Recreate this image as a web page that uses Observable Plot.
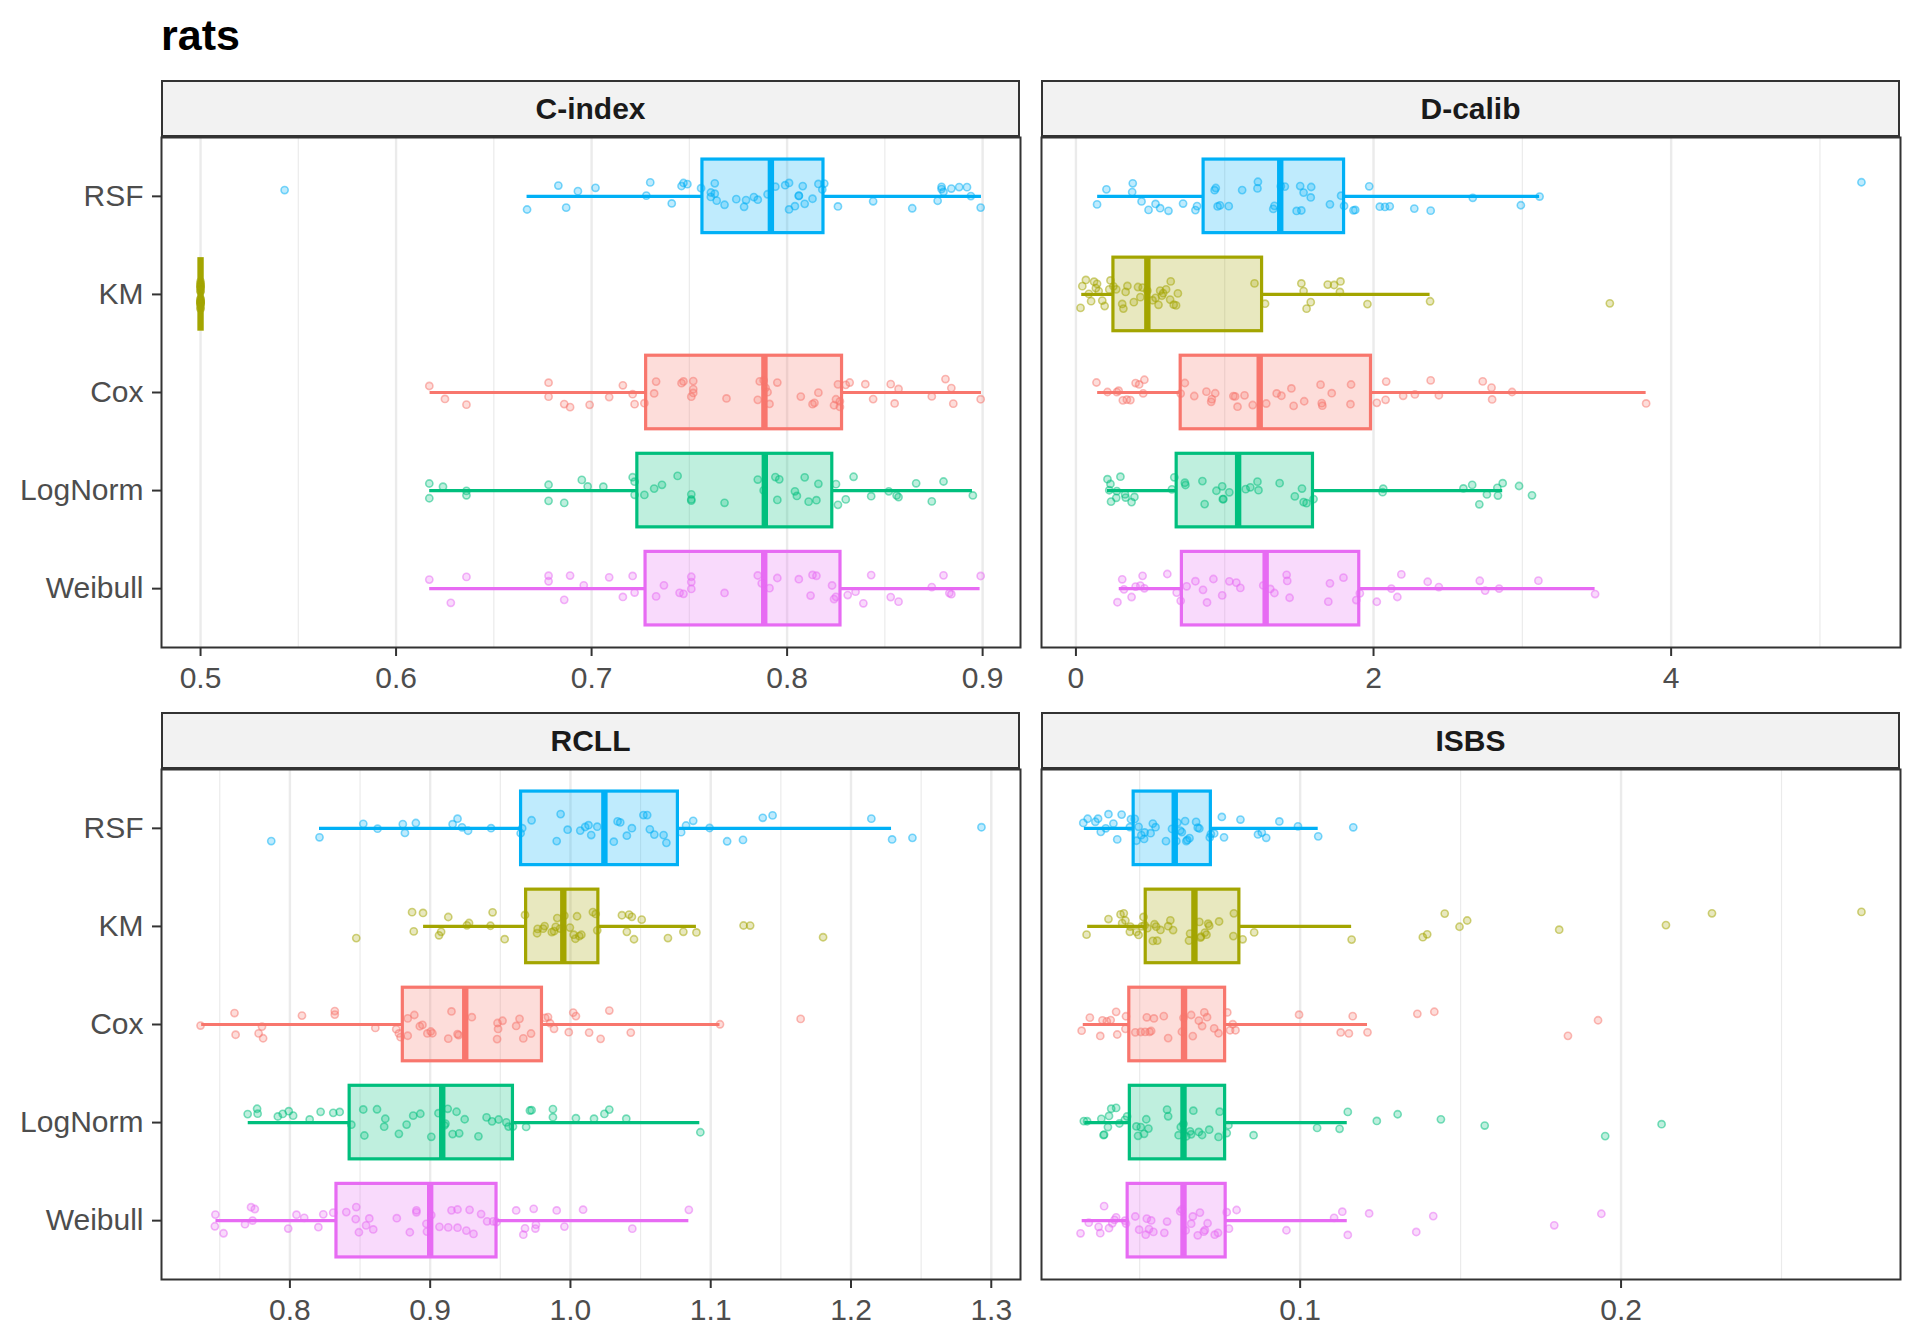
<!DOCTYPE html>
<html><head><meta charset="utf-8">
<script src="https://cdn.jsdelivr.net/npm/d3@7"></script>
<script src="https://cdn.jsdelivr.net/npm/@observablehq/plot@0.6"></script>
<style>
body{margin:0;background:#fff;}
#root{position:relative;width:1920px;height:1344px;font-family:"Liberation Sans",Arial,sans-serif;background:#fff;overflow:hidden;}
.title{position:absolute;left:161px;top:14px;font-size:43px;font-weight:bold;line-height:43px;color:#000;}
.strip{position:absolute;box-sizing:border-box;border:2px solid #333;background:#F2F2F2;font-weight:bold;font-size:30px;color:#1A1A1A;display:flex;align-items:center;justify-content:center;}
.panel{position:absolute;}
</style></head>
<body><div id="root"><div class="title">rats</div></div>
<script>
const models = ["RSF", "KM", "Cox", "LogNorm", "Weibull"];
const modelColors = ["#00B0F6", "#A3A500", "#F8766D", "#00BF7D", "#E76BF3"];
const metrics = ["C-index", "D-calib", "RCLL", "ISBS"];

// box stats per model: [lower whisker, Q1, median, Q3, upper whisker]
const cindexStats = [[0.667,0.7567,0.7917,0.8186,0.8994],[0.5,0.5,0.5,0.5,0.5],[0.6174,0.7279,0.7884,0.8281,0.8994],[0.6172,0.7234,0.7886,0.8231,0.8948],[0.6172,0.7276,0.7883,0.8273,0.8987]];
const dcalibStats = [[0.146,0.858,1.373,1.802,3.116],[0.039,0.252,0.480,1.251,2.380],[0.146,0.704,1.235,1.983,3.832],[0.212,0.677,1.090,1.593,2.868],[0.291,0.712,1.275,1.904,3.489]];
const rcllStats = [[0.8211,0.9648,1.0242,1.0766,1.2289],[0.8953,0.9684,0.9949,1.0199,1.0898],[0.7371,0.8805,0.9250,0.9797,1.1066],[0.7703,0.8426,0.9086,0.9590,1.0922],[0.7473,0.8332,0.9000,0.9473,1.0844]];
const isbsStats = [[0.03276,0.04812,0.06092,0.07218,0.10563],[0.03379,0.05188,0.06706,0.08106,0.11604],[0.03242,0.04676,0.06382,0.07662,0.12099],[0.03294,0.04693,0.06365,0.07662,0.11468],[0.03208,0.04625,0.06365,0.07679,0.11468]];

// C-index replicate values
const cindexRSF = [0.543,0.667,0.683,0.687,0.693,0.702,0.728,0.730,0.741,0.746,0.747,0.749,0.756,0.761,0.761,0.763,0.763,0.764,0.768,0.774,0.778,0.779,0.783,0.785,0.790,0.794,0.799,0.801,0.801,0.804,0.806,0.806,0.808,0.809,0.813,0.816,0.818,0.819,0.826,0.844,0.864,0.877,0.879,0.879,0.880,0.884,0.888,0.892,0.894,0.899];
const cindexKM = [0.5,0.5,0.5,0.5,0.5,0.5,0.5,0.5,0.5,0.5,0.5,0.5,0.5,0.5,0.5,0.5,0.5,0.5,0.5,0.5];
const cindexCox = [0.617,0.625,0.636,0.678,0.678,0.686,0.689,0.699,0.709,0.716,0.721,0.722,0.727,0.732,0.733,0.746,0.747,0.751,0.752,0.752,0.752,0.769,0.785,0.786,0.788,0.789,0.790,0.791,0.795,0.807,0.813,0.814,0.816,0.824,0.825,0.826,0.827,0.827,0.830,0.832,0.840,0.844,0.853,0.855,0.857,0.874,0.881,0.884,0.885,0.899];
const cindexLogNorm = [0.617,0.617,0.624,0.636,0.636,0.678,0.678,0.686,0.695,0.698,0.706,0.721,0.722,0.722,0.727,0.732,0.736,0.744,0.751,0.751,0.751,0.768,0.785,0.788,0.794,0.795,0.796,0.804,0.805,0.809,0.811,0.815,0.816,0.825,0.826,0.830,0.834,0.843,0.852,0.856,0.857,0.866,0.874,0.880,0.895];
const cindexWeibull = [0.617,0.628,0.636,0.678,0.678,0.686,0.689,0.696,0.709,0.716,0.721,0.722,0.733,0.737,0.745,0.747,0.751,0.751,0.751,0.768,0.785,0.787,0.791,0.795,0.806,0.812,0.813,0.815,0.823,0.824,0.825,0.831,0.835,0.839,0.843,0.853,0.857,0.874,0.880,0.883,0.884,0.899];

// D-calib replicate values
const dcalibRSF = [0.142,0.205,0.378,0.382,0.441,0.488,0.535,0.566,0.622,0.720,0.803,0.814,0.932,0.940,0.952,0.968,1.027,1.117,1.220,1.223,1.326,1.334,1.377,1.404,1.483,1.507,1.515,1.530,1.578,1.581,1.707,1.782,1.802,1.865,1.877,1.971,2.042,2.077,2.109,2.274,2.384,2.667,2.990,3.116,5.279];
const dcalibKM = [0.031,0.043,0.067,0.087,0.102,0.122,0.134,0.142,0.153,0.177,0.193,0.224,0.232,0.252,0.271,0.311,0.319,0.334,0.346,0.389,0.417,0.433,0.448,0.480,0.515,0.535,0.555,0.566,0.578,0.586,0.606,0.633,0.637,0.657,0.673,0.685,1.200,1.271,1.515,1.530,1.550,1.578,1.692,1.735,1.774,1.778,1.959,2.380,3.588];
const dcalibCox = [0.138,0.212,0.275,0.287,0.315,0.342,0.366,0.401,0.425,0.452,0.460,0.704,0.732,0.795,0.877,0.909,0.913,0.936,1.058,1.070,1.086,1.133,1.188,1.279,1.349,1.381,1.448,1.463,1.534,1.644,1.652,1.656,1.719,1.845,1.849,2.022,2.081,2.085,2.199,2.278,2.384,2.439,2.734,2.793,2.797,2.931,3.832];
const dcalibLogNorm = [0.212,0.224,0.232,0.236,0.271,0.275,0.299,0.330,0.334,0.374,0.393,0.645,0.661,0.732,0.736,0.850,0.865,0.944,0.983,0.987,0.991,1.031,1.141,1.172,1.220,1.227,1.369,1.471,1.519,1.530,1.550,1.597,2.061,2.065,2.604,2.663,2.711,2.762,2.832,2.836,2.868,2.978,3.065];
const dcalibWeibull = [0.279,0.311,0.323,0.374,0.401,0.433,0.448,0.460,0.614,0.677,0.704,0.744,0.803,0.854,0.881,0.924,0.983,1.031,1.078,1.105,1.259,1.306,1.334,1.416,1.420,1.436,1.696,1.707,1.798,1.884,1.908,2.022,2.120,2.160,2.187,2.364,2.439,2.714,2.750,2.844,3.108,3.489];

// RCLL replicate values
const rcllRSF = [0.7867,0.8211,0.8523,0.8625,0.8805,0.8820,0.8898,0.9160,0.9195,0.9227,0.9270,0.9434,0.9645,0.9656,0.9723,0.9902,0.9930,0.9980,1.0070,1.0105,1.0129,1.0148,1.0191,1.0309,1.0336,1.0355,1.0402,1.0438,1.0520,1.0547,1.0566,1.0598,1.0664,1.0684,1.0789,1.0824,1.0875,1.0992,1.1117,1.1230,1.1371,1.1441,1.2145,1.2293,1.2438,1.2930];
const rcllKM = [0.8473,0.8871,0.8883,0.8949,0.9063,0.9078,0.9129,0.9262,0.9277,0.9430,0.9445,0.9531,0.9676,0.9762,0.9766,0.9805,0.9816,0.9867,0.9883,0.9895,0.9906,0.9926,0.9957,0.9996,1.0023,1.0035,1.0047,1.0063,1.0078,1.0160,1.0180,1.0191,1.0367,1.0402,1.0418,1.0438,1.0453,1.0508,1.0695,1.0805,1.0898,1.1234,1.1281,1.1801];
const rcllCox = [0.7363,0.7605,0.7613,0.7777,0.7801,0.7809,0.8086,0.8320,0.8320,0.8609,0.8758,0.8777,0.8789,0.8840,0.8840,0.8887,0.8926,0.8945,0.8980,0.9004,0.9016,0.9129,0.9152,0.9195,0.9203,0.9297,0.9477,0.9480,0.9484,0.9516,0.9613,0.9637,0.9664,0.9719,0.9820,0.9840,0.9855,0.9883,0.9988,1.0020,1.0039,1.0133,1.0215,1.0277,1.0430,1.1066,1.1641];
const rcllLogNorm = [0.7699,0.7766,0.7770,0.7914,0.7949,0.7992,0.8023,0.8141,0.8219,0.8309,0.8355,0.8438,0.8523,0.8531,0.8621,0.8672,0.8680,0.8777,0.8832,0.8879,0.8930,0.9008,0.9059,0.9102,0.9109,0.9125,0.9160,0.9188,0.9207,0.9246,0.9344,0.9402,0.9441,0.9488,0.9543,0.9559,0.9590,0.9684,0.9711,0.9723,0.9875,0.9875,1.0039,1.0168,1.0242,1.0277,1.0398,1.0926];
const rcllWeibull = [0.7465,0.7469,0.7527,0.7680,0.7723,0.7734,0.7750,0.7988,0.8047,0.8102,0.8203,0.8238,0.8309,0.8402,0.8469,0.8473,0.8492,0.8543,0.8566,0.8594,0.8762,0.8855,0.8902,0.8902,0.8973,0.8977,0.9008,0.9066,0.9129,0.9152,0.9195,0.9195,0.9258,0.9281,0.9309,0.9363,0.9406,0.9449,0.9473,0.9613,0.9664,0.9676,0.9738,0.9750,0.9754,0.9902,0.9957,1.0090,1.0441,1.0844];

// ISBS replicate values
const isbsRSF = [0.03242,0.03379,0.03618,0.03703,0.03788,0.03942,0.04027,0.04181,0.04300,0.04437,0.04693,0.04727,0.04846,0.04898,0.04966,0.05051,0.05137,0.05154,0.05341,0.05410,0.05495,0.05819,0.06007,0.06143,0.06177,0.06263,0.06314,0.06416,0.06451,0.06485,0.06553,0.06758,0.06809,0.06860,0.07184,0.07218,0.07321,0.07560,0.07628,0.08140,0.08686,0.08805,0.08942,0.09352,0.09932,0.10563,0.11655];
const isbsKM = [0.03345,0.04027,0.04403,0.04454,0.04505,0.04556,0.04693,0.04710,0.04898,0.04966,0.05068,0.05119,0.05154,0.05239,0.05410,0.05461,0.05512,0.05546,0.05648,0.05887,0.05956,0.06041,0.06536,0.06570,0.06860,0.06894,0.06911,0.07031,0.07082,0.07133,0.07167,0.07474,0.07918,0.07935,0.08208,0.08567,0.11604,0.13823,0.13959,0.14505,0.14966,0.15205,0.18072,0.21399,0.22833,0.27491];
const isbsCox = [0.03191,0.03447,0.03771,0.03840,0.03976,0.04096,0.04266,0.04300,0.04556,0.04573,0.04863,0.05034,0.05171,0.05222,0.05307,0.05358,0.05444,0.05751,0.05887,0.06314,0.06365,0.06604,0.06655,0.06843,0.06945,0.07014,0.07099,0.07321,0.07457,0.07730,0.07816,0.07901,0.07986,0.09966,0.11263,0.11519,0.11638,0.12099,0.13652,0.14181,0.18345,0.19283];
const isbsLogNorm = [0.03259,0.03362,0.03805,0.03874,0.03891,0.04010,0.04044,0.04113,0.04266,0.04369,0.04539,0.04608,0.04898,0.04949,0.05034,0.05137,0.05205,0.05273,0.05853,0.05887,0.06212,0.06280,0.06365,0.06451,0.06570,0.06604,0.06672,0.06843,0.06945,0.07167,0.07457,0.07491,0.07713,0.07765,0.08549,0.10529,0.11229,0.11485,0.12389,0.13038,0.14386,0.15751,0.19505,0.21263];
const isbsWeibull = [0.03157,0.03413,0.03720,0.03771,0.03891,0.04044,0.04147,0.04215,0.04266,0.04539,0.04573,0.04863,0.04983,0.05188,0.05222,0.05290,0.05358,0.05427,0.05768,0.05853,0.06263,0.06314,0.06433,0.06604,0.06655,0.06809,0.06877,0.06997,0.07031,0.07116,0.07338,0.07440,0.07713,0.07782,0.08020,0.09573,0.11058,0.11314,0.11485,0.12150,0.13618,0.14147,0.17918,0.19386];

// tick values
const cindexMajor = [0.5, 0.6, 0.7, 0.8, 0.9], cindexMinor = [0.55, 0.65, 0.75, 0.85];
const dcalibMajor = [0, 2, 4], dcalibMinor = [1, 3, 5];
const rcllMajor = [0.8, 0.9, 1.0, 1.1, 1.2, 1.3], rcllMinor = [0.75, 0.85, 0.95, 1.05, 1.15, 1.25];
const isbsMajor = [0.1, 0.2], isbsMinor = [0.05, 0.15, 0.25];

// deterministic vertical jitter (ggplot geom_jitter look)
function mulberry32(a) { return function() { a |= 0; a = a + 0x6D2B79F5 | 0; let t = Math.imul(a ^ a >>> 15, 1 | a); t = t + Math.imul(t ^ t >>> 7, 61 | t) ^ t; return ((t ^ t >>> 14) >>> 0) / 4294967296; }; }

const FONT = '"Liberation Sans", Arial, sans-serif';
const root = document.getElementById("root");
const PW = 859, PH = 510;

function panel(cfg) {
  const pts = [];
  cfg.values.forEach((arr, i) => {
    const rnd = mulberry32(cfg.seed * 100 + i * 7 + 3);
    arr.forEach(v => pts.push({m: i, v, j: i + (rnd() * 2 - 1) * 0.15}));
  });
  const boxes = cfg.stats.map((s, i) => ({m: i, lo: s[0], q1: s[1], med: s[2], q3: s[3], hi: s[4], y1: i - 0.375, y2: i + 0.375}));
  const all = pts.map(d => d.v).concat(cfg.stats.flat());
  const [mn, mx] = d3.extent(all);
  const pad = (mx - mn) * 0.05;
  const ml = cfg.showY ? 161 : 4;
  const marks = [
    Plot.ruleX(cfg.minor, {stroke: "#EBEBEB", strokeWidth: 1.2}),
    Plot.ruleX(cfg.major, {stroke: "#EBEBEB", strokeWidth: 2.4}),
    Plot.ruleY(boxes, {y: "m", x1: "lo", x2: "q1", stroke: "m", strokeWidth: 3.2}),
    Plot.ruleY(boxes, {y: "m", x1: "q3", x2: "hi", stroke: "m", strokeWidth: 3.2}),
    Plot.rect(boxes, {x1: "q1", x2: "q3", y1: "y1", y2: "y2", fill: "m", fillOpacity: 0.25, stroke: "m", strokeWidth: 3.2}),
    Plot.ruleX(boxes, {x: "med", y1: "y1", y2: "y2", stroke: "m", strokeWidth: 6.4}),
    Plot.dot(pts, {x: "v", y: "j", r: 3.6, fill: "m", fillOpacity: 0.25, stroke: "m", strokeOpacity: 0.5, strokeWidth: 1.6}),
    Plot.frame({stroke: "#333", strokeWidth: 2}),
    Plot.axisX(cfg.major, {tickFormat: cfg.fmt, tickSize: 9, tickPadding: 10, stroke: "#333", strokeWidth: 2, fill: "#4D4D4D", fontSize: 30, label: null})
  ];
  if (cfg.showY) marks.push(Plot.axisY([0, 1, 2, 3, 4], {tickFormat: i => models[i], tickSize: 9, tickPadding: 9, stroke: "#333", strokeWidth: 2, fill: "#4D4D4D", fontSize: 30, label: null}));
  const svg = Plot.plot({
    width: ml + PW + 4, height: 4 + PH + 60,
    marginLeft: ml, marginRight: 4, marginTop: 4, marginBottom: 60,
    x: {domain: [mn - pad, mx + pad], axis: null, label: null},
    y: {domain: [4.6, -0.6], axis: null, label: null},
    color: {type: "ordinal", domain: [0, 1, 2, 3, 4], range: modelColors},
    style: {fontFamily: FONT, fontSize: "30px", background: "transparent", overflow: "visible"},
    marks
  });
  const wrap = document.createElement("div");
  wrap.className = "panel";
  wrap.style.left = (cfg.px - ml) + "px";
  wrap.style.top = (cfg.py - 4) + "px";
  wrap.appendChild(svg);
  root.appendChild(wrap);
  const strip = document.createElement("div");
  strip.className = "strip";
  strip.style.left = cfg.px + "px";
  strip.style.top = (cfg.py - 57) + "px";
  strip.style.width = PW + "px";
  strip.style.height = "57px";
  strip.textContent = cfg.name;
  root.appendChild(strip);
}

const f1 = d3.format(".1f");
panel({name: metrics[0], values: [cindexRSF, cindexKM, cindexCox, cindexLogNorm, cindexWeibull], stats: cindexStats, major: cindexMajor, minor: cindexMinor, fmt: f1, px: 161, py: 137, showY: true, seed: 1});
panel({name: metrics[1], values: [dcalibRSF, dcalibKM, dcalibCox, dcalibLogNorm, dcalibWeibull], stats: dcalibStats, major: dcalibMajor, minor: dcalibMinor, fmt: d3.format("d"), px: 1041, py: 137, showY: false, seed: 2});
panel({name: metrics[2], values: [rcllRSF, rcllKM, rcllCox, rcllLogNorm, rcllWeibull], stats: rcllStats, major: rcllMajor, minor: rcllMinor, fmt: f1, px: 161, py: 769, showY: true, seed: 3});
panel({name: metrics[3], values: [isbsRSF, isbsKM, isbsCox, isbsLogNorm, isbsWeibull], stats: isbsStats, major: isbsMajor, minor: isbsMinor, fmt: f1, px: 1041, py: 769, showY: false, seed: 4});
</script></body></html>
